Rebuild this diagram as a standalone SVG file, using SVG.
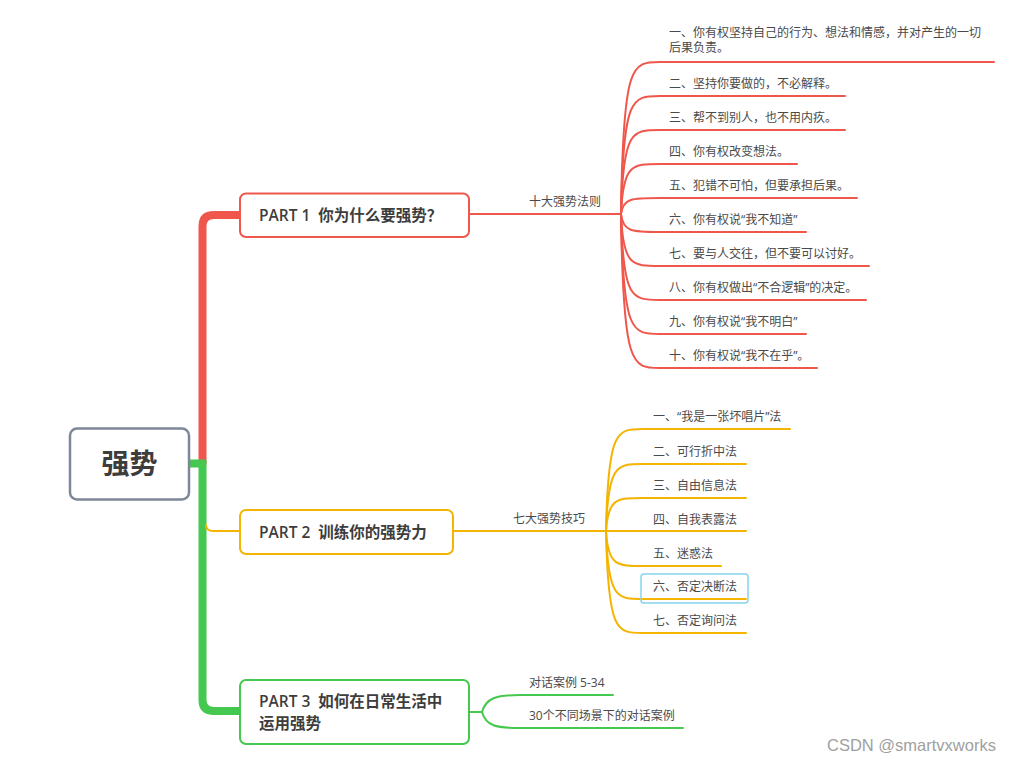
<svg xmlns="http://www.w3.org/2000/svg" width="1015" height="761" viewBox="0 0 1015 761">
<style>
text{font-family:"Open Sans","Noto Sans CJK SC",sans-serif;fill:#3d3d3d}
.t{font-size:15.5px;font-weight:600;white-space:pre}
.c{font-size:12px;fill:#4a4a4a}
.l{font-size:12px;fill:#4a4a4a}
.box{fill:#fff;stroke-width:2}
.r{stroke:#f0574c;fill:none}
.o{stroke:#f5b400;fill:none}
.g{stroke:#45c84f;fill:none}
</style>
<rect width="1015" height="761" fill="#fff"/>
<g id="connectors" stroke-linecap="round">
  <path class="r" stroke-width="8" d="M202.5,463 V226 Q202.5,215 214,215 H240"/>
  <path class="g" stroke-width="8" d="M189,463.5 H202.5 V700 Q202.5,711 214,711 H240" stroke-linecap="butt"/>
  <path class="o" stroke-width="2" d="M206,525 Q206,531 213,531 H240"/>
  <path class="r" stroke-width="2" d="M469,214 H621"/>
  <g class="r" stroke-width="2">
    <path d="M621,214 C623,62 632,62 660,62 H994"/>
    <path d="M621,214 C623,96 632,96 660,96 H845"/>
    <path d="M621,214 C623,130 632,130 660,130 H845"/>
    <path d="M621,214 C623,164 632,164 660,164 H797"/>
    <path d="M621,214 C623,198 632,198 660,198 H857"/>
    <path d="M621,214 C623,232 632,232 660,232 H806"/>
    <path d="M621,214 C623,266 632,266 660,266 H869"/>
    <path d="M621,214 C623,300 632,300 660,300 H866"/>
    <path d="M621,214 C623,334 632,334 660,334 H806"/>
    <path d="M621,214 C623,368 632,368 660,368 H817"/>
  </g>
  <path class="o" stroke-width="2" d="M453,531 H606"/>
  <g class="o" stroke-width="2">
    <path d="M606,531 C608,429 617,429 643,429 H790"/>
    <path d="M606,531 C608,464 617,464 643,464 H746"/>
    <path d="M606,531 C608,498 617,498 643,498 H746"/>
    <path d="M606,531 H746"/>
    <path d="M606,531 C608,566 617,566 643,566 H721"/>
    <path d="M606,531 C608,599 617,599 643,599 H746"/>
    <path d="M606,531 C608,633 617,633 643,633 H746"/>
  </g>
  <path class="g" stroke-width="2" d="M469,712 H482"/>
  <g class="g" stroke-width="2">
    <path d="M482,712 C486,698 496,695 520,695 H613"/>
    <path d="M482,712 C486,726 496,728 520,728 H683"/>
  </g>
</g>
<g id="root">
  <rect x="70" y="428.5" width="119" height="71" rx="7" fill="#fff" stroke="#7d8797" stroke-width="2.5"/>
  <text x="129.5" y="474" text-anchor="middle" style="font-size:28px;font-weight:700">强势</text>
</g>
<g id="part1">
  <rect class="box" x="240" y="193.5" width="229" height="43.5" rx="6" stroke="#f0574c"/>
  <text class="t" x="259" y="221" xml:space="preserve">PART 1  你为什么要强势？</text>
</g>
<g id="part1-label"><text class="l" x="529" y="206">十大强势法则</text></g>
<g id="part1-items">
  <text class="c" x="669" y="37">一、你有权坚持自己的行为、想法和情感，并对产生的一切</text>
  <text class="c" x="669" y="52">后果负责。</text>
  <text class="c" x="669" y="88">二、坚持你要做的，不必解释。</text>
  <text class="c" x="669" y="122">三、帮不到别人，也不用内疚。</text>
  <text class="c" x="669" y="156">四、你有权改变想法。</text>
  <text class="c" x="669" y="190">五、犯错不可怕，但要承担后果。</text>
  <text class="c" x="669" y="224">六、你有权说“我不知道”</text>
  <text class="c" x="669" y="258">七、要与人交往，但不要可以讨好。</text>
  <text class="c" x="669" y="292">八、你有权做出“不合逻辑”的决定。</text>
  <text class="c" x="669" y="326">九、你有权说“我不明白”</text>
  <text class="c" x="669" y="360">十、你有权说“我不在乎”。</text>
</g>
<g id="part2">
  <rect class="box" x="240" y="510" width="213" height="44" rx="6" stroke="#f5b400"/>
  <text class="t" x="259" y="538" xml:space="preserve">PART 2  训练你的强势力</text>
</g>
<g id="part2-label"><text class="l" x="513" y="523">七大强势技巧</text></g>
<g id="part2-items">
  <rect x="641" y="574" width="107" height="29" rx="3" fill="none" stroke="#86d3ee" stroke-width="1.5"/>
  <text class="c" x="653" y="421">一、“我是一张坏唱片”法</text>
  <text class="c" x="653" y="456">二、可行折中法</text>
  <text class="c" x="653" y="490">三、自由信息法</text>
  <text class="c" x="653" y="524">四、自我表露法</text>
  <text class="c" x="653" y="558">五、迷惑法</text>
  <text class="c" x="653" y="591">六、否定决断法</text>
  <text class="c" x="653" y="625">七、否定询问法</text>
</g>
<g id="part3">
  <rect class="box" x="240" y="680" width="229" height="64" rx="6" stroke="#45c84f"/>
  <text class="t" x="259" y="707" xml:space="preserve">PART 3  如何在日常生活中</text>
  <text class="t" x="259" y="729">运用强势</text>
</g>
<g id="part3-items">
  <text class="c" x="529" y="687">对话案例 5-34</text>
  <text class="c" x="529" y="720">30个不同场景下的对话案例</text>
</g>
<text x="827" y="751" style="font-family:'Liberation Sans',Arial,sans-serif;font-size:16.5px;fill:#a0a0a0">CSDN @smartvxworks</text>
</svg>
